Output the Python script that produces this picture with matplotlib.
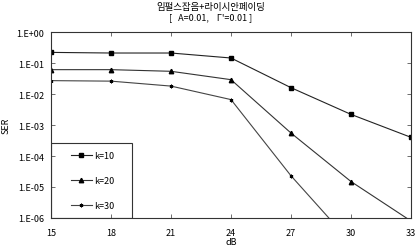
import numpy as np
import matplotlib.pyplot as plt
from matplotlib.patches import Rectangle

plt.rcParams['font.family'] = ['Noto Sans CJK KR', 'DejaVu Sans']

# data
snr_db = [15, 18, 21, 24, 27, 30, 33]
ser_k10 = [0.22, 0.21, 0.21, 0.145, 0.016, 0.0022, 0.0004]
ser_k20 = [0.061, 0.061, 0.054, 0.029, 5.5e-4, 1.5e-5, 8e-7]
ser_k30 = [0.027, 0.026, 0.018, 0.0066, 2.3e-5, 1.6e-7, 1e-9]
labels = ['k=10', 'k=20', 'k=30']
yticks = [1e0, 1e-1, 1e-2, 1e-3, 1e-4, 1e-5, 1e-6]
ytick_labels = ['1.E+00', '1.E-01', '1.E-02', '1.E-03', '1.E-04', '1.E-05', '1.E-06']

fig = plt.figure(figsize=(4.17, 2.51), dpi=100)
ax = fig.add_axes([0.1223, 0.1275, 0.8633, 0.741])

fs = 6.5
ax.plot(snr_db, ser_k10, '-', color='#222222', lw=0.8, marker='s', ms=2.6,
        mfc='black', mec='black', label=labels[0])
ax.plot(snr_db, ser_k20, '-', color='#333333', lw=0.8, marker='^', ms=3.2,
        mfc='black', mec='black', label=labels[1])
ax.plot(snr_db, ser_k30, '-', color='#444444', lw=0.8, marker=(6, 2, 0), ms=2.6,
        mew=0.7, mec='black', label=labels[2])

ax.set_yscale('log')
ax.set_xlim(15, 33)
ax.set_ylim(1e-6, 1e0)
ax.set_xticks(snr_db)
ax.set_xticklabels([str(v) for v in snr_db], fontsize=fs)
ax.set_yticks(yticks)
ax.set_yticklabels(ytick_labels, fontsize=fs)
ax.minorticks_off()
ax.tick_params(direction='in', length=3, width=0.6, top=True, right=True,
               color='#555555')
ax.tick_params(axis='x', pad=7)
ax.tick_params(axis='y', pad=5)
for s in ax.spines.values():
    s.set_linewidth(0.8)
    s.set_color('#333333')

ax.set_xlabel('dB', fontsize=fs, labelpad=0)
ax.set_ylabel('SER', fontsize=fs)
ax.yaxis.set_label_coords(-0.112, 0.5)

fig.text(0.505, 0.972, '임펄스잡음+라이시안페이딩', ha='center', va='center', fontsize=6.8)
fig.text(0.505, 0.93, "[   A=0.01,    Γ'=0.01 ]", ha='center', va='center', fontsize=6.5)

# legend box
ax.add_patch(Rectangle((0, 0), 0.226, 0.402, transform=ax.transAxes, fill=False,
                       edgecolor='#333333', lw=0.8, zorder=5))
leg = ax.legend(loc='center left', bbox_to_anchor=(0.055, 0.201), frameon=False,
                fontsize=fs, labelspacing=1.75, borderpad=0, borderaxespad=0,
                handlelength=2.3, handletextpad=0.25)

fig.savefig('out.png', dpi=100)
